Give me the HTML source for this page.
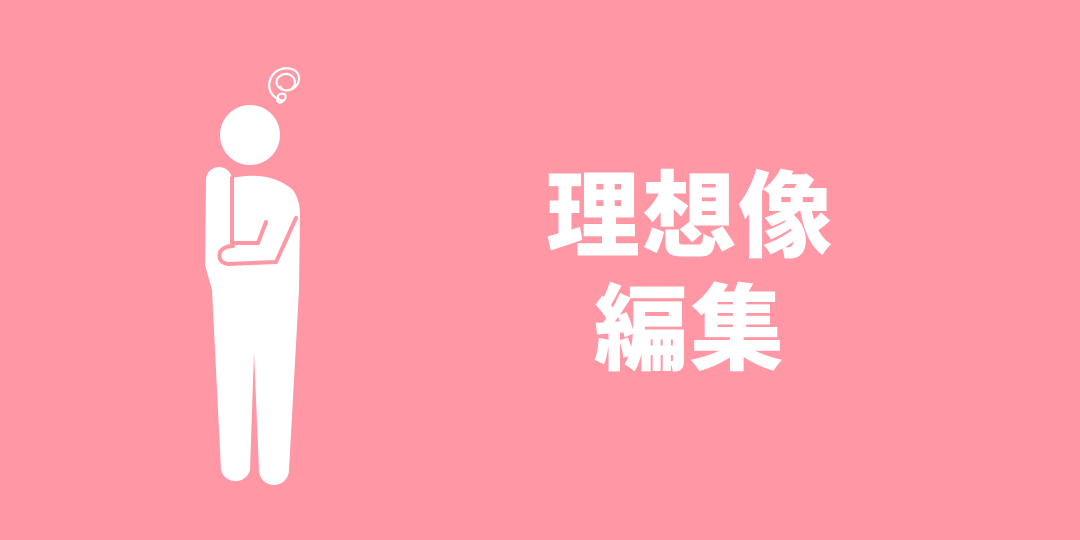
<!DOCTYPE html>
<html><head><meta charset="utf-8"><style>
html,body{margin:0;padding:0}
body{width:1080px;height:540px;background:#ff97a5;overflow:hidden;position:relative}
.t{position:absolute;left:0;width:1380px;text-align:center;color:#fff;font-family:"Liberation Sans","Noto Sans CJK JP",sans-serif;font-weight:900;font-size:94px;line-height:1;letter-spacing:2px}
</style></head><body>
<svg width="1080" height="540" style="position:absolute;left:0;top:0">
  <g fill="none" stroke="#fff" stroke-width="2.2">
    <path d="M280 100 c-10 -4 -14 -14 -8 -24 c6 -10 22 -10 26 -2 c4 8 -4 18 -14 16 c-8 -2 -10 -10 -4 -14 c8 -6 18 2 14 10 c-3 6 -12 6 -14 0 M284 100 c-6 2 -8 -4 -4 -6 c6 -2 8 4 2 8 c-4 2 -6 -2 -4 -4"/>
  </g>
  <circle cx="250" cy="135" r="30" fill="#fff"/>
  <path d="M232 178 Q270 170 293 190 Q300 200 300 215 L299 290 L289 470 A15 15 0 0 1 259 470 L254 352 L250 470 A15 15 0 0 1 221 470 L212 290 L205 265 L206 180 A13 13 0 0 1 232 180 Z" fill="#fff"/>
  <g fill="none" stroke="#ff97a5" stroke-width="4" stroke-linecap="round" stroke-linejoin="round">
    <path d="M232 178 L232 243 L258 243 L266 222"/>
    <path d="M296 218 L276 262 L228 264 Q217 262 220 252 Q224 246 233 246"/>
  </g>
</svg>
<div class="t" style="top:170px">理想像</div>
<div class="t" style="top:283px">編集</div>
</body></html>
